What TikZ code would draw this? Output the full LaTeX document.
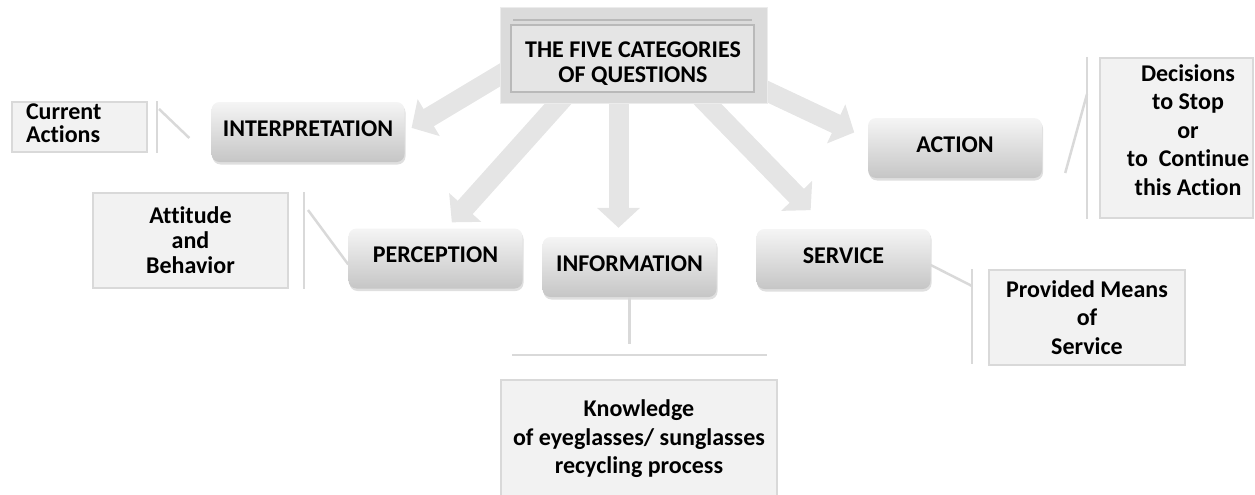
\documentclass[tikz,border=0pt]{standalone}
\usepackage{fontspec}
\setmainfont{Carlito}[Ligatures=NoCommon]
\usetikzlibrary{arrows.meta,shadows,backgrounds}

\begin{document}
\begin{tikzpicture}[x=1pt,y=-1pt,
    font=\bfseries\fontsize{24}{25}\selectfont,
    cat/.style={rounded corners=8pt, top color=gray!8, bottom color=gray!45,
        minimum width=174pt, minimum height=60pt, inner sep=0pt,
        text height=16pt, text depth=8pt,
        drop shadow={shadow xshift=1pt, shadow yshift=-2.5pt, opacity=.25}},
    note/.style={fill=gray!10, draw=gray!30, line width=2pt, inner sep=0pt, align=center},
    wide/.style={font=\bfseries\fontsize{24}{28.5}\selectfont},
    bracket/.style={draw=gray!30, line width=2.5pt},
    big arrow/.style={draw=gray!20, line width=20pt, -{Triangle[width=42pt,length=20pt]}}]
    \useasboundingbox (0,0) rectangle (1255,495);
    % header block
    \node[fill=gray!28, draw=gray!15, line width=1pt, minimum width=267pt, minimum height=95pt] (frame) at (633.5,55.5) {};
    \node[fill=gray!20, draw=gray!55, line width=1.5pt, minimum width=243pt, minimum height=67pt] (panel) at (632.5,58.5) {};
    \draw[gray!55, line width=1.5pt] ([shift={(3pt,4pt)}]panel.north west) -- ([shift={(-3pt,4pt)}]panel.north east);
    \node[align=center] (title) at (633,64) {THE FIVE CATEGORIES\\OF QUESTIONS};
    % the five categories
    \node[cat, minimum width=193pt] (interp) at (308,132) {INTERPRETATION};
    \node[cat] (perc) at (435.5,258.5) {PERCEPTION};
    \node[cat] (info) at (629.5,267) {INFORMATION};
    \node[cat] (serv) at (843.5,259) {SERVICE};
    \node[cat] (act) at (955,148) {ACTION};
    % side notes
    \node[note, minimum width=135pt, minimum height=50pt, text width=107pt, align=left, text depth=30pt] (cur) at (79.5,127) {Current\\[-2pt]Actions};
    \node[note, minimum width=195pt, minimum height=95pt] (att) at (190.5,240.5) {Attitude\\and\\Behavior};
    \node[note, wide, minimum width=196pt, minimum height=95pt] (prov) at (1087,317.5) {Provided Means\\of\\Service};
    \node[note, wide, minimum width=276pt, minimum height=118pt] (know) at (639,439) {Knowledge\\of eyeglasses/ sunglasses\\recycling process};
    \node[note, minimum width=153pt, minimum height=160pt] (stop) at (1176.5,138) {};
    \node[wide, align=center] (stoptext) at ([shift={(11.5pt,8pt)}]stop.center) {Decisions\\to Stop\\or\\to\ \ Continue\\this Action};
    % brackets
    \draw[bracket] ([xshift=9pt]cur.north east) -- ([xshift=9pt]cur.south east);
    \draw[bracket] ([shift={(11pt,-8pt)}]cur.north east) -- ([shift={(-22pt,-6pt)}]interp.west);
    \draw[bracket] ([xshift=15pt]att.north east) -- ([xshift=15pt]att.south east);
    \draw[bracket] ([shift={(19pt,-18pt)}]att.north east) -- ([yshift=-6pt]perc.west);
    \draw[bracket] ([xshift=-16pt]prov.north west) -- ([shift={(-16pt,2pt)}]prov.south west);
    \draw[bracket] ([yshift=-6pt]serv.east) -- ([shift={(-16pt,-17pt)}]prov.north west);
    \draw[bracket] ([xshift=-12pt]stop.north west) -- ([xshift=-12pt]stop.south west);
    \draw[bracket] ([shift={(-12pt,-37pt)}]stop.north west) -- ([shift={(23pt,-25pt)}]act.east);
    \draw[bracket] (info.south) -- ([yshift=35pt]know.north -| info.south);
    \draw[bracket] ([shift={(12pt,24pt)}]know.north west) -- ([shift={(-11pt,24pt)}]know.north east);
    % arrows out of the header
    \begin{scope}[on background layer]
        \draw[big arrow, shorten >=8pt] ([shift={(-73.5pt,16.5pt)}]frame.center) -- (interp.east);
        \draw[big arrow, shorten >=8pt] ([shift={(75pt,18pt)}]frame.south west) -- (perc.70);
        \draw[big arrow, shorten >=9pt] (info.110 |- frame.center) -- (info.110);
        \draw[big arrow, shorten >=26pt] ([shift={(190pt,18pt)}]frame.south west) -- (serv.116);
        \draw[big arrow, shorten >=15pt] ([shift={(-32pt,27pt)}]frame.south east) -- (act.174);
    \end{scope}
\end{tikzpicture}
\end{document}
